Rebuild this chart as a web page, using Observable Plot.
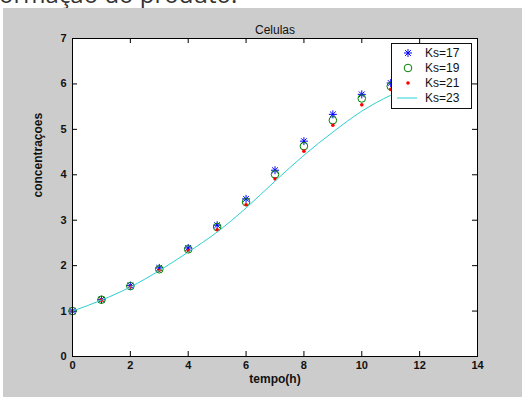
<!DOCTYPE html>
<html><head><meta charset="utf-8">
<script src="https://cdn.jsdelivr.net/npm/d3@7"></script>
<script src="https://cdn.jsdelivr.net/npm/@observablehq/plot@0.6"></script>
<style>
html,body{margin:0;padding:0;background:#fff;}
#wrap{position:relative;width:522px;height:397px;overflow:hidden;background:#fff;}
#head{position:absolute;left:-9px;top:-23px;font:24px "Open Sans";color:#333;white-space:nowrap;}
#bg{position:absolute;left:3px;top:8px;right:0;bottom:0;background:#cccccc;}
#chart{position:absolute;left:0;top:0;}
#chart svg{background:transparent;}
</style></head><body>
<div id="wrap"><div id="head">formação do produto.</div><div id="bg"></div><div id="chart"></div></div>
<script>
// ---- data ----
const tempo = [0,1,2,3,4,5,6,7,8,9,10,11];
const ks17 = [1.00,1.25,1.56,1.95,2.39,2.89,3.47,4.10,4.74,5.33,5.77,6.02];
const ks19 = [1.00,1.25,1.55,1.92,2.36,2.85,3.40,4.01,4.63,5.20,5.68,5.95];
const ks21 = [1.00,1.24,1.53,1.90,2.33,2.79,3.34,3.91,4.52,5.09,5.54,5.88];
const tempoLinha = [0,1,2,3,4,5,6,7,8,9,10,11,12];
const ks23 = [1.00,1.24,1.53,1.89,2.30,2.74,3.27,3.86,4.43,4.94,5.40,5.75,6.00];
const xTicks = [0,2,4,6,8,10,12,14];
const yTicks = [0,1,2,3,4,5,6,7];
const seriesNames = ["Ks=17","Ks=19","Ks=21","Ks=23"];
const titulo = "Celulas";
const xLabel = "tempo(h)";
const yLabel = "concentraçoes";

const toRows = (xs, ys) => xs.map((t,i)=>({t, v: ys[i]}));
const d17 = toRows(tempo, ks17), d19 = toRows(tempo, ks19), d21 = toRows(tempo, ks21);
const d23 = toRows(tempoLinha, ks23);

// MATLAB-like '*' marker (plus + cross)
const starSym = {draw(ctx, size){
  const r = Math.sqrt(size/Math.PI);
  const q = r*0.72;
  ctx.moveTo(-r,0); ctx.lineTo(r,0);
  ctx.moveTo(0,-r); ctx.lineTo(0,r);
  ctx.moveTo(-q,-q); ctx.lineTo(q,q);
  ctx.moveTo(-q,q); ctx.lineTo(q,-q);
}};

const W=522,H=397,mL=72,mT=38,mR=45,mB=41;
const pw=W-mL-mR, ph=H-mT-mB;
const FONT = "'Liberation Sans', Arial, sans-serif";

const plot = Plot.plot({
  width:W, height:H,
  marginLeft:mL, marginTop:mT, marginRight:mR, marginBottom:mB,
  style:{background:"transparent", fontFamily:FONT, fontSize:"11px", color:"#111"},
  x:{domain:[0,14]},
  y:{domain:[0,7]},
  marks:[
    Plot.frame({fill:"white", stroke:"none"}),
    Plot.axisX({ticks:xTicks, tickFormat:d=>String(d), tickSize:0, tickPadding:5, label:null, fontWeight:"bold", fill:"#111"}),
    Plot.axisY({ticks:yTicks, tickFormat:d=>String(d), tickSize:0, tickPadding:6, label:null, fontWeight:"bold", fill:"#111"}),
    Plot.tickX(xTicks, {x:d=>d, stroke:"black", insetTop:ph-5}),
    Plot.tickX(xTicks, {x:d=>d, stroke:"black", insetBottom:ph-5}),
    Plot.tickY(yTicks, {y:d=>d, stroke:"black", insetRight:pw-5}),
    Plot.tickY(yTicks, {y:d=>d, stroke:"black", insetLeft:pw-5}),
    Plot.dot(d17, {x:"t", y:"v", symbol:starSym, r:4, stroke:"#0000ff", strokeWidth:1}),
    Plot.dot(d19, {x:"t", y:"v", symbol:"circle", r:3.8, stroke:"#008000", fill:"none", strokeWidth:1}),
    Plot.dot(d21, {x:"t", y:"v", symbol:"circle", r:1.8, fill:"#ff0000", stroke:"none"}),
    Plot.line(d23, {x:"t", y:"v", stroke:"#2dcfcf", strokeWidth:1, curve:"monotone-x"}),
    Plot.frame({stroke:"black", strokeWidth:1}),
    Plot.text([titulo], {text:d=>d, frameAnchor:"top", dy:-13, fontSize:12, fill:"#111"}),
    Plot.text([xLabel], {text:d=>d, frameAnchor:"bottom", dy:26, fontSize:12, fontWeight:"bold", fill:"#111"}),
    Plot.text([yLabel], {text:d=>d, frameAnchor:"left", dx:-34, rotate:-90, fontSize:12, fontWeight:"bold", fill:"#111"})
  ]
});
document.getElementById("chart").appendChild(plot);

// legend inside the axes (top-right), MATLAB style
const svg = d3.select(plot);
const lg = svg.append("g").attr("transform","translate(391,43)");
lg.append("rect").attr("x",0.5).attr("y",0.5).attr("width",80).attr("height",65).attr("fill","white").attr("stroke","#111");
const colors = ["#0000ff","#008000","#ff0000","#2dcfcf"];
seriesNames.forEach((name,i)=>{
  const cy = 10 + i*15;
  const mx = 17;
  if(i===0){
    lg.append("path").attr("transform",`translate(${mx},${cy})`).attr("d", d3.symbol(starSym, 4*4*Math.PI)()).attr("stroke",colors[0]).attr("fill","none");
  } else if(i===1){
    lg.append("circle").attr("cx",mx).attr("cy",cy).attr("r",3.8).attr("stroke",colors[1]).attr("fill","none");
  } else if(i===2){
    lg.append("circle").attr("cx",mx).attr("cy",cy).attr("r",1.8).attr("fill",colors[2]);
  } else {
    lg.append("line").attr("x1",6).attr("x2",26).attr("y1",cy).attr("y2",cy).attr("stroke",colors[3]);
  }
  lg.append("text").attr("x",34).attr("y",cy).attr("dy","0.35em").attr("text-anchor","start").attr("font-size",12).attr("fill","#111").attr("font-family",FONT).text(name);
});
</script>
</body></html>
